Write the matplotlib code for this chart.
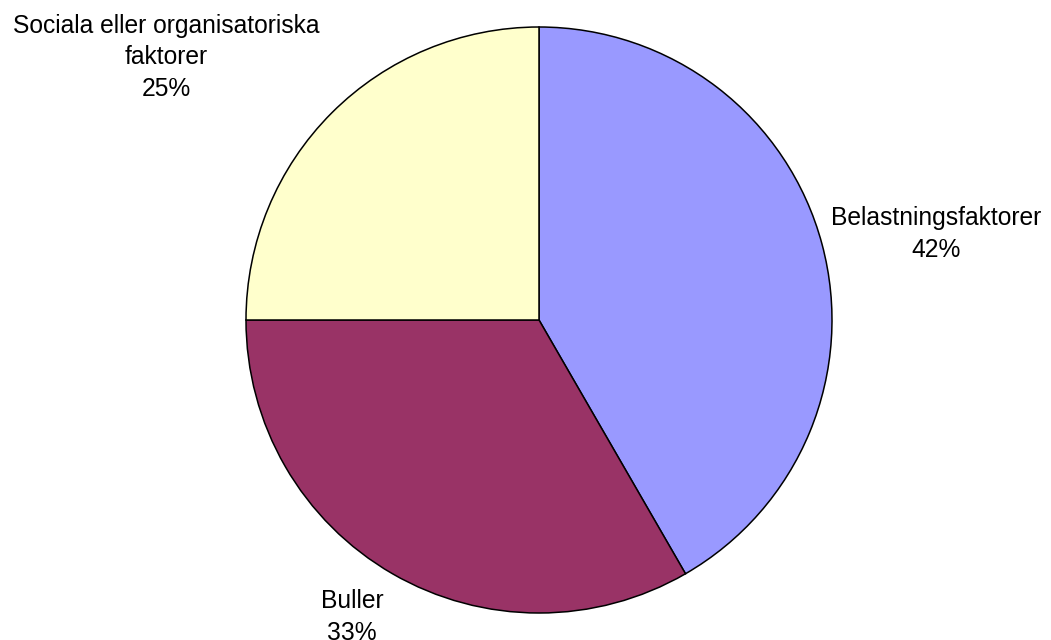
import matplotlib
matplotlib.use("Agg")
import matplotlib.pyplot as plt

categories = ["Belastningsfaktorer", "Buller", "Sociala eller organisatoriska\nfaktorer"]
counts = [5, 4, 3]
colors = ["#9999FF", "#993366", "#FFFFCC"]

# label anchor points in pie-radius units (centre of each text block)
label_pos = [(1.355, 0.293), (-0.638, -1.014), (-1.273, 0.897)]

plt.rcParams["font.family"] = ["Liberation Sans", "DejaVu Sans"]

W, H = 1051, 640
fig = plt.figure(figsize=(W / 100, H / 100), dpi=100)
cx, cy, r = 539, 320, 293
ax = fig.add_axes([(cx - r) / W, (H - cy - r) / H, 2 * r / W, 2 * r / H])

wedges, _ = ax.pie(counts, colors=colors, startangle=90, counterclock=False,
                   radius=1, wedgeprops=dict(edgecolor="black", linewidth=1.1))
for w in wedges:
    w.set_clip_on(False)
ax.set_xlim(-1, 1)
ax.set_ylim(-1, 1)
ax.axis("off")

total = sum(counts)
for cat, val, (lx, ly) in zip(categories, counts, label_pos):
    pct = round(100 * val / total)
    ax.text(lx, ly, f"{cat}\n{pct}%", ha="center", va="center",
            fontsize=17.7, linespacing=1.39, clip_on=False)

fig.savefig("out.png", dpi=100)
